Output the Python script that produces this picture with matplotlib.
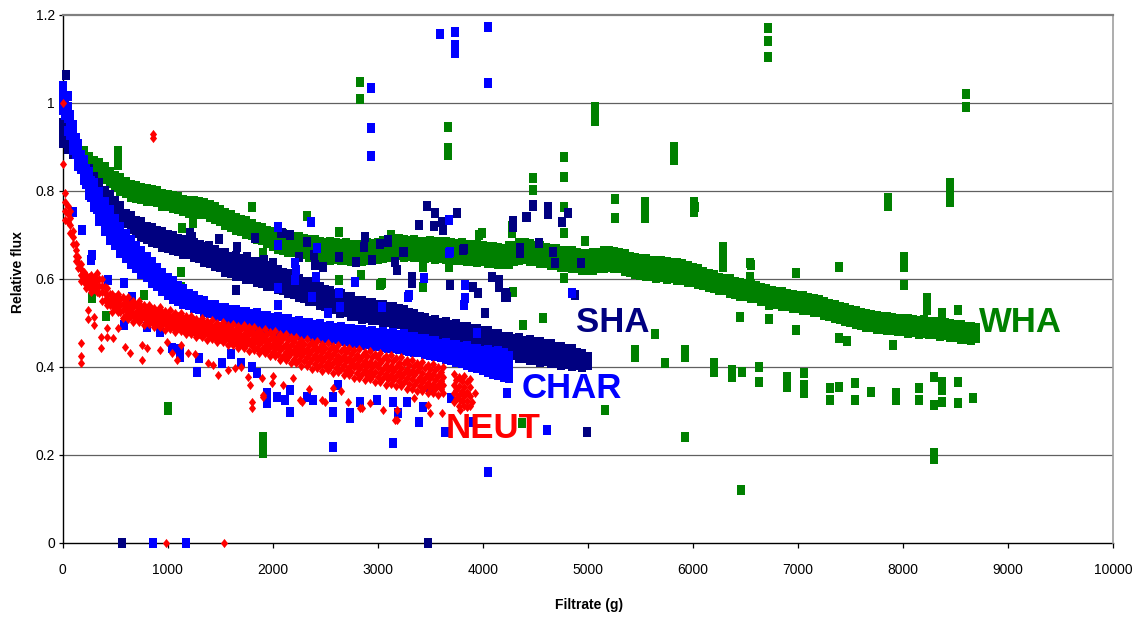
import numpy as np
import matplotlib
matplotlib.use("Agg")
import matplotlib.pyplot as plt
from matplotlib import font_manager as fm

# ---------------- data ----------------
# dense bands: marker rows (top / middle / bottom) read every 50 g of filtrate
WHA_x = np.arange(0, 8701, 50)
WHA_hi = [.946, .939, .926, .906, .890, .877, .869, .863, .855, .844,
          .834, .829, .821, .814, .812, .807, .805, .802, .801, .794,
          .791, .788, .786, .780, .778, .778, .774, .772, .768, .764,
          .756, .749, .745, .738, .733, .731, .725, .719, .715, .709,
          .706, .703, .703, .699, .696, .695, .691, .688, .688, .683,
          .681, .683, .681, .680, .682, .678, .677, .678, .681, .680,
          .681, .686, .686, .688, .691, .688, .687, .688, .685, .684,
          .686, .683, .683, .684, .681, .680, .681, .678, .677, .678,
          .675, .673, .673, .670, .669, .674, .676, .682, .681, .679,
          .676, .675, .671, .668, .668, .664, .663, .663, .659, .657,
          .656, .659, .659, .663, .663, .662, .659, .657, .651, .648,
          .645, .645, .641, .640, .641, .638, .637, .637, .633, .630,
          .626, .623, .616, .611, .608, .603, .601, .599, .594, .591,
          .589, .588, .583, .579, .578, .573, .571, .570, .566, .563,
          .561, .561, .557, .554, .553, .547, .544, .542, .537, .533,
          .529, .528, .523, .520, .519, .515, .514, .514, .511, .510,
          .509, .509, .506, .505, .506, .503, .502, .502, .499, .497,
          .496, .495, .491, .492, .489]
WHA_mid = [.936, .929, .916, .896, .878, .867, .856, .849, .842, .831,
           .822, .814, .808, .801, .797, .795, .792, .790, .786, .781,
           .778, .776, .771, .768, .765, .763, .762, .759, .755, .750,
           .743, .737, .730, .726, .720, .716, .712, .707, .700, .696,
           .690, .686, .684, .681, .679, .675, .673, .670, .668, .665,
           .663, .664, .663, .662, .662, .660, .659, .661, .661, .662,
           .664, .666, .668, .670, .671, .671, .669, .668, .668, .666,
           .666, .666, .665, .664, .664, .662, .661, .661, .659, .658,
           .658, .655, .654, .652, .651, .654, .658, .662, .664, .661,
           .659, .655, .653, .651, .648, .647, .645, .643, .642, .640,
           .638, .639, .641, .644, .645, .644, .641, .637, .634, .630,
           .627, .626, .623, .622, .621, .620, .619, .617, .615, .612,
           .610, .606, .602, .597, .593, .589, .587, .584, .580, .577,
           .575, .572, .570, .565, .562, .560, .557, .554, .552, .549,
           .547, .545, .543, .540, .537, .534, .530, .527, .523, .519,
           .516, .512, .510, .506, .503, .501, .500, .498, .497, .496,
           .495, .494, .492, .491, .490, .489, .488, .487, .485, .483,
           .482, .480, .477, .477, .477]
WHA_lo = [.926, .919, .906, .886, .868, .857, .844, .836, .828, .819,
          .809, .800, .796, .787, .785, .782, .778, .777, .774, .767,
          .766, .761, .759, .755, .751, .751, .747, .747, .741, .737,
          .731, .722, .718, .711, .708, .702, .700, .692, .688, .682,
          .676, .669, .667, .662, .661, .656, .656, .651, .651, .646,
          .646, .644, .646, .643, .644, .641, .642, .641, .644, .643,
          .646, .647, .651, .651, .654, .651, .652, .649, .650, .647,
          .649, .646, .648, .645, .646, .643, .644, .641, .642, .639,
          .640, .636, .636, .633, .634, .635, .641, .643, .646, .642,
          .641, .636, .636, .631, .631, .627, .628, .624, .624, .620,
          .621, .620, .624, .624, .628, .625, .624, .618, .616, .611,
          .610, .606, .606, .603, .604, .601, .602, .598, .598, .593,
          .594, .589, .587, .581, .579, .574, .574, .568, .567, .562,
          .562, .557, .556, .550, .549, .544, .544, .539, .539, .534,
          .534, .530, .530, .525, .524, .518, .517, .511, .510, .504,
          .502, .497, .496, .491, .490, .486, .487, .483, .484, .481,
          .482, .478, .479, .476, .477, .474, .475, .471, .472, .468,
          .469, .464, .464, .462, .466]

SHA_x = np.arange(0, 5001, 50)
SHA_hi = [.955, .921, .901, .881, .861, .849, .831, .819, .801, .791,
          .777, .766, .748, .743, .732, .729, .719, .717, .709, .707,
          .699, .698, .691, .689, .681, .681, .674, .673, .666, .666,
          .659, .658, .651, .652, .646, .645, .639, .638, .631, .630,
          .623, .621, .614, .611, .603, .601, .594, .593, .583, .582,
          .574, .573, .566, .566, .559, .558, .551, .551, .546, .546,
          .541, .542, .537, .537, .531, .530, .523, .521, .513, .512,
          .505, .506, .501, .502, .496, .497, .491, .491, .486, .486,
          .481, .481, .475, .475, .469, .469, .464, .465, .460, .461,
          .456, .457, .452, .452, .446, .446, .441, .440, .431, .430,
          .423]
SHA_mid = [.932, .910, .893, .872, .853, .838, .820, .805, .787, .775,
           .763, .751, .738, .728, .718, .712, .706, .700, .695, .690,
           .685, .681, .678, .673, .668, .665, .661, .656, .652, .647,
           .643, .637, .633, .630, .626, .622, .619, .615, .611, .607,
           .603, .599, .595, .590, .585, .580, .576, .571, .567, .562,
           .557, .553, .549, .546, .542, .538, .534, .531, .529, .526,
           .524, .522, .520, .517, .514, .511, .507, .503, .498, .494,
           .490, .487, .485, .482, .479, .476, .473, .470, .468, .465,
           .463, .461, .458, .455, .452, .449, .446, .443, .441, .439,
           .437, .435, .433, .431, .428, .426, .424, .422, .418, .416,
           .414]
SHA_lo = [.909, .896, .884, .861, .844, .826, .809, .791, .774, .758,
          .750, .736, .727, .713, .704, .695, .692, .684, .682, .673,
          .671, .665, .664, .657, .656, .649, .647, .639, .637, .629,
          .627, .617, .614, .607, .606, .600, .599, .593, .592, .585,
          .584, .577, .576, .568, .566, .558, .557, .550, .549, .542,
          .539, .532, .531, .525, .524, .517, .516, .510, .511, .506,
          .507, .502, .503, .497, .497, .491, .491, .484, .483, .476,
          .475, .469, .469, .462, .461, .455, .454, .448, .449, .444,
          .445, .440, .441, .435, .434, .428, .427, .421, .421, .416,
          .417, .412, .414, .409, .409, .405, .407, .403, .404, .401,
          .404]

CHAR_x = np.arange(0, 4251, 50)
CHAR_y1 = [1.039, 1.016, .951, .906, .871, .843, .819, .797, .776, .756,
           .736, .719, .703, .689, .676, .663, .651, .638, .626, .614,
           .603, .596, .583, .577, .566, .562, .553, .550, .541, .540,
           .534, .534, .529, .530, .525, .526, .521, .522, .517, .517,
           .512, .513, .508, .508, .503, .504, .500, .501, .496, .497,
           .492, .494, .489, .490, .486, .487, .483, .485, .480, .482,
           .478, .480, .476, .478, .473, .474, .468, .469, .463, .464,
           .458, .459, .453, .454, .449, .451, .446, .447, .441, .442,
           .436, .438, .434, .436, .431, .426]
CHAR_y2 = [1.021, .990, .932, .890, .855, .827, .801, .776, .754, .735,
           .716, .700, .684, .671, .659, .647, .635, .623, .612, .601,
           .592, .583, .574, .567, .560, .553, .548, .542, .537, .533,
           .530, .527, .525, .522, .520, .518, .516, .513, .511, .508,
           .506, .504, .502, .499, .497, .495, .493, .492, .490, .488,
           .486, .484, .482, .480, .479, .477, .476, .475, .473, .471,
           .470, .469, .467, .466, .464, .462, .460, .458, .455, .453,
           .450, .448, .445, .442, .440, .438, .435, .433, .430, .428,
           .424, .422, .420, .418, .415, .411]
CHAR_y3 = [1.002, .965, .913, .875, .840, .810, .782, .755, .731, .713,
           .697, .680, .666, .654, .641, .630, .620, .609, .598, .589,
           .577, .570, .563, .556, .550, .545, .539, .535, .530, .526,
           .523, .520, .517, .515, .513, .510, .508, .505, .502, .499,
           .496, .494, .492, .489, .487, .485, .484, .482, .480, .478,
           .476, .475, .473, .471, .469, .467, .465, .463, .462, .461,
           .459, .457, .456, .455, .453, .451, .448, .446, .444, .441,
           .439, .436, .434, .431, .427, .425, .422, .418, .415, .411,
           .408, .405, .402, .399, .397, .393]
CHAR_y4 = [.984, .936, .894, .856, .824, .791, .764, .731, .709, .689,
           .677, .658, .647, .633, .624, .611, .604, .591, .584, .573,
           .563, .554, .551, .543, .541, .533, .531, .524, .523, .516,
           .516, .510, .510, .504, .505, .499, .500, .493, .493, .487,
           .487, .482, .483, .477, .478, .473, .474, .470, .471, .466,
           .467, .462, .463, .458, .459, .454, .455, .450, .452, .447,
           .448, .446, .444, .443, .441, .439, .437, .435, .433, .430,
           .428, .425, .423, .419, .415, .412, .408, .404, .401, .397,
           .393, .389, .385, .381, .378, .375]
# extra readings in the thick early part of the CHAR band (25 g offsets)
CHAR_xs = np.arange(25, 1000, 50)
CHAR_s1 = [1.017, .972, .920, .881, .849, .823, .798, .776, .755, .736,
           .718, .702, .687, .674, .661, .649, .637, .625, .613, .603]
CHAR_s2 = [.995, .950, .903, .865, .833, .805, .779, .754, .733, .715,
           .698, .683, .669, .656, .644, .633, .622, .611, .600, .590]
CHAR_s3 = [.972, .927, .885, .849, .816, .787, .758, .732, .711, .694,
           .678, .663, .650, .638, .627, .616, .606, .596, .586, .576]

NEUT_x = np.arange(25, 3876, 50)
NEUT_r1 = [.795, .755, .680, .635, .610, .609, .614, .600, .579, .565,
           .566, .558, .559, .550, .549, .542, .542, .535, .536, .528,
           .529, .522, .522, .515, .516, .510, .511, .504, .506, .500,
           .502, .496, .498, .493, .496, .490, .492, .485, .486, .480,
           .481, .474, .475, .468, .469, .462, .464, .457, .459, .452,
           .454, .448, .449, .443, .444, .438, .440, .434, .436, .430,
           .432, .425, .427, .420, .422, .415, .417, .410, .412, .405,
           .407, .400, .399, np.nan, .384, .378, .380, .373]
NEUT_r2 = [.775, .738, .667, .622, .600, .595, .597, .585, .563, .553,
           .550, .544, .540, .536, .531, .528, .524, .521, .519, .515,
           .512, .509, .506, .503, .500, .497, .494, .491, .489, .487,
           .484, .482, .479, .478, .476, .474, .471, .468, .465, .463,
           .459, .456, .453, .449, .446, .443, .441, .438, .436, .433,
           .431, .429, .426, .424, .421, .418, .416, .414, .412, .410,
           .408, .405, .403, .400, .398, .395, .392, .390, .387, .385,
           .383, .380, .377, np.nan, .360, .357, .355, .354]
NEUT_r3 = [.755, .722, .653, .608, .590, .585, .583, .570, .552, .542,
           .537, .529, .525, .521, .517, .514, .511, .508, .505, .502,
           .499, .497, .493, .490, .487, .485, .482, .479, .476, .473,
           .470, .467, .465, .462, .460, .457, .455, .452, .448, .445,
           .442, .438, .434, .431, .428, .425, .422, .419, .416, .414,
           .412, .410, .407, .404, .401, .399, .396, .394, .392, .389,
           .387, .384, .382, .380, .377, .374, .372, .369, .367, .364,
           .362, .360, .358, np.nan, .340, .336, .333, .334]
NEUT_r4 = [.735, .705, .640, .595, .580, .571, .570, .551, .540, .526,
           .525, .511, .510, .503, .503, .496, .497, .490, .492, .485,
           .486, .480, .481, .474, .475, .468, .469, .462, .463, .456,
           .456, .449, .450, .443, .444, .437, .438, .431, .431, .424,
           .424, .416, .416, .408, .409, .402, .403, .396, .397, .391,
           .393, .387, .388, .381, .382, .375, .376, .370, .372, .365,
           .367, .360, .362, .356, .357, .350, .351, .345, .346, .340,
           .342, .336, .340, np.nan, .320, .311, .312, .311]
# readings in between the NEUT rows (25 g offsets)
NEUT_xs = np.arange(50, 3851, 50)
NEUT_s1 = [.766, .710, .651, .617, .604, .604, .599, .582, .565, .559,
           .555, .550, .546, .542, .538, .534, .531, .528, .525, .521,
           .518, .515, .512, .509, .506, .503, .500, .498, .496, .493,
           .491, .489, .487, .486, .484, .482, .479, .476, .474, .471,
           .468, .465, .461, .458, .455, .453, .450, .448, .445, .443,
           .441, .438, .436, .433, .430, .428, .426, .424, .422, .420,
           .418, .415, .413, .410, .408, .405, .402, .400, .397, .395,
           .393, .389, np.nan, np.nan, .370, .368, .366]
NEUT_s2 = [.748, .695, .638, .605, .593, .590, .584, .568, .553, .546,
           .540, .535, .531, .526, .523, .519, .516, .513, .510, .507,
           .504, .501, .498, .495, .492, .490, .487, .484, .481, .479,
           .476, .473, .471, .469, .467, .464, .462, .458, .455, .452,
           .449, .445, .442, .439, .436, .433, .430, .427, .425, .423,
           .421, .418, .415, .413, .410, .407, .405, .403, .401, .399,
           .396, .394, .391, .389, .386, .383, .381, .378, .376, .374,
           .371, .369, np.nan, np.nan, .348, .345, .344]
NEUT_s3 = [.729, .680, .624, .593, .582, .577, .569, .553, .540, .533,
           .526, .519, .515, .511, .508, .505, .502, .499, .496, .493,
           .491, .488, .485, .482, .479, .476, .473, .470, .467, .464,
           .461, .458, .455, .452, .450, .447, .444, .441, .437, .434,
           .430, .426, .422, .419, .416, .413, .410, .407, .405, .403,
           .401, .398, .395, .392, .389, .387, .384, .382, .380, .377,
           .375, .372, .370, .368, .365, .362, .359, .357, .354, .352,
           .350, .349, np.nan, np.nan, .327, .323, .323]

# scattered single readings (outliers) per series
WHA_out_x = [530, 530, 530, 1135, 1240, 1805, 2330, 2635, 2840, 3030, 2635, 1128, 1128, 780, 290,
             285, 410, 1005, 1005, 1910, 1910, 1910, 1910, 1815, 3670, 3670, 3670, 4475, 4475, 4775,
             4775, 5070, 5070, 5070, 5260, 5260, 4775, 4775, 4975, 3965, 4280, 3125, 2830, 2830,
             5825, 5825, 5825, 6715, 6715, 6715, 5545, 5545, 5545, 6010, 6010, 6285, 6285, 6285,
             6545, 6545, 3430, 3430, 3430, 3680, 3990, 4280, 4775, 4290, 3040, 3020, 8600, 8600,
             7855, 7855, 8445, 8445, 8445, 8010, 8010, 8010, 6985, 7390, 8230, 6550, 6450, 6725,
             6725, 6985, 7390, 7465, 7910, 8230, 8230, 8520, 8375, 6465, 6630, 6630, 6895, 6895,
             7060, 7060, 7060, 7305, 7305, 7390, 7540, 7540, 7700, 7930, 7930, 8150, 8150, 8300,
             8300, 8375, 8375, 8375, 8520, 8520, 8665, 8300, 8300, 6020, 4380, 4575, 5640, 5450,
             5450, 5735, 5925, 5925, 6200, 6200, 6370, 6370, 5160, 5925, 6460, 4370]
WHA_out_y = [.890, .875, .860, .716, .727, .764, .743, .707, .609, .589, .598, .616, .582, .564, .593,
             .557, .516, .310, .303, .241, .225, .205, .659, .632, .945, .897, .882, .830, .802, .877,
             .832, .990, .975, .960, .782, .739, .764, .705, .686, .700, .705, .700, 1.048, 1.010,
             .900, .885, .870, 1.170, 1.140, 1.105, .775, .757, .739, .775, .752, .673, .650, .627,
             .636, .605, .632, .627, .582, .627, .705, .720, .602, .570, .590, .586, 1.020, .990,
             .784, .765, .818, .795, .775, .650, .627, .586, .614, .627, .557, .632, .514, .541,
             .509, .484, .465, .459, .450, .552, .530, .530, .523, .389, .400, .366, .377, .355,
             .386, .360, .340, .352, .325, .355, .364, .325, .343, .341, .325, .352, .325, .377,
             .314, .366, .348, .320, .366, .318, .330, .205, .190, .764, .495, .511, .475, .439,
             .423, .409, .439, .423, .409, .389, .393, .377, .302, .241, .120, .273]

SHA_out_x = [30, 1215, 1230, 1310, 1395, 1490, 1580, 1660, 1755, 1835, 1920, 2005, 2080, 2165, 2250,
             2395, 2480, 2635, 2790, 2875, 3020, 3095, 1650, 3470, 3545, 3395, 3610, 3535, 3620,
             3755, 3820, 3250, 3165, 4285, 4285, 4420, 4475, 4620, 4620, 4755, 4810, 4355, 4540,
             4670, 4685, 4940, 4480, 4410, 4875, 4210, 4990, 3240, 3095, 2870, 2945, 2325, 2400,
             2090, 3330, 3185, 3810, 3910, 3955, 4085, 4155, 4020, 4230, 3325, 3690, 4155, 4220,
             4355, 2640, 2640, 565, 3475]
SHA_out_y = [1.064, .705, .695, .677, .675, .691, .650, .673, .650, .693, .643, .636, .705, .700, .650,
             .655, .627, .650, .639, .695, .680, .689, .575, .766, .750, .723, .730, .720, .711,
             .750, .668, .661, .639, .732, .718, .741, .766, .764, .748, .730, .750, .659, .682,
             .661, .636, .636, .768, .741, .564, .559, .252, .661, .684, .673, .643, .684, .632,
             .705, .605, .620, .666, .582, .568, .605, .598, .523, .559, .590, .586, .582, .568,
             .670, .545, .523, 0.0, 0.0]

CHAR_out_x = [3595, 3735, 3735, 3735, 4050, 4050, 3680, 3680, 3440, 3295, 2935, 2935, 2935, 100, 185,
              270, 280, 435, 585, 2050, 2050, 2370, 2420, 2210, 2210, 2410, 2780, 2375, 2635, 2050,
              660, 585, 800, 930, 1040, 1120, 1285, 1515, 1850, 1945, 1945, 2040, 2120, 2165, 2165,
              2325, 2385, 2575, 2575, 2735, 2735, 2830, 2990, 3145, 2575, 3145, 860, 1175, 2625,
              3195, 3280, 3430, 3640, 3905, 4230, 2640, 3040, 3290, 3820, 3950, 3690, 2050, 2525,
              3395, 4050, 4610, 3830, 3830, 4850, 2225, 1120, 1300, 1600, 1700, 1800, 3500, 3700]
CHAR_out_y = [1.157, 1.161, 1.132, 1.113, 1.172, 1.045, .734, .659, .602, .564, 1.034, .943, .880, .752, .711,
              .643, .655, .598, .591, .718, .677, .730, .670, .636, .598, .605, .593, .559, .568, .580,
              .559, .495, .491, .480, .443, .423, .389, .409, .386, .318, .341, .332, .325, .298, .348,
              .332, .325, .332, .298, .295, .284, .320, .325, .320, .218, .227, 0.0, 0.0, .359,
              .295, .320, .309, .252, .275, .341, .536, .536, .559, .541, .477, .661, .541, .523,
              .275, .161, .257, .586, .556, .568, .620, .440, .420, .430, .410, .400, .350, .330]

NEUT_out_x = [5, 5, 860, 860, 985, 1540, 175, 175, 175, 245, 245, 300, 300, 365, 365, 425, 425, 480, 530,
              595, 645, 755, 755, 805, 930, 995, 1040, 1090, 1130, 1195, 1260, 1385, 1435, 1480, 1575,
              1640, 1700, 1765, 1785, 1805, 1805, 1900, 1910, 1995, 2005, 2280, 2500, 2850, 2925,
              3050, 3180, 2720, 2575, 2195, 1910, 2260, 2470, 2830, 3180, 3480, 3500, 3610, 3785,
              3785, 3850, 3165, 2100, 2350, 2650, 3350, 3900, 3930]
NEUT_out_y = [1.000, .861, .930, .920, 0.0, 0.0, .455, .425, .409, .530, .509, .514, .495, .468, .443, .489,
              .468, .466, .489, .445, .432, .450, .416, .443, .439, .457, .432, .416, .450, .432, .430,
              .409, .405, .382, .393, .398, .400, .377, .359, .320, .307, .375, .336, .364, .380, .320,
              .320, .307, .318, .302, .279, .320, .352, .375, .332, .325, .325, .307, .302, .314, .295,
              .295, .325, .302, .310, .280, .360, .350, .345, .330, .320, .340]

SERIES_NAMES = ["WHA", "SHA", "CHAR", "NEUT"]
SERIES_COLORS = ["#008000", "#000080", "#0000FF", "#FF0000"]
LABEL_POS = {"WHA": (9120, 0.500), "SHA": (5240, 0.502), "CHAR": (4845, 0.352), "NEUT": (4095, 0.261)}

X_TICKS = list(range(0, 10001, 1000))
Y_TICKS = [0, 0.2, 0.4, 0.6, 0.8, 1.0, 1.2]
Y_TICK_LABELS = ["0", "0.2", "0.4", "0.6", "0.8", "1", "1.2"]


# ---------------- drawing ----------------
def has_font(name):
    try:
        fm.findfont(fm.FontProperties(family=name), fallback_to_default=False)
        return True
    except Exception:
        return False


BASE = "Liberation Sans" if has_font("Liberation Sans") else "DejaVu Sans"
NARROW = "Liberation Sans Narrow" if has_font("Liberation Sans Narrow") else None
plt.rcParams["font.family"] = [BASE, "DejaVu Sans"]

W, H = 1142, 619
fig = plt.figure(figsize=(W / 100, H / 100), dpi=100)
ax = fig.add_axes([62.5 / W, 1 - 543 / H, (1113 - 62.5) / W, (543 - 15) / H])

SQUARE = [(-0.4, -0.5), (0.4, -0.5), (0.4, 0.5), (-0.4, 0.5), (-0.4, -0.5)]
DIAMOND = [(0, -0.5), (0.39, 0), (0, 0.5), (-0.39, 0), (0, -0.5)]


def draw(xs, ys, color, marker, size, z):
    ax.scatter(xs, ys, s=size, marker=marker, c=color, linewidths=0,
               zorder=z, clip_on=False)


band = {
    "WHA": [(WHA_x, [WHA_hi, WHA_mid, WHA_lo])],
    "SHA": [(SHA_x, [SHA_hi, SHA_mid, SHA_lo])],
    "CHAR": [(CHAR_x, [CHAR_y1, CHAR_y2, CHAR_y3, CHAR_y4]),
             (CHAR_xs, [CHAR_s1, CHAR_s2, CHAR_s3])],
    "NEUT": [(NEUT_x, [NEUT_r1, NEUT_r2, NEUT_r3, NEUT_r4]),
             (NEUT_xs, [NEUT_s1, NEUT_s2, NEUT_s3])],
}
outliers = {
    "WHA": (WHA_out_x, WHA_out_y),
    "SHA": (SHA_out_x, SHA_out_y),
    "CHAR": (CHAR_out_x, CHAR_out_y),
    "NEUT": (NEUT_out_x, NEUT_out_y),
}

for i, (name, color) in enumerate(zip(SERIES_NAMES, SERIES_COLORS)):
    marker, size = (DIAMOND, 44) if name == "NEUT" else (SQUARE, 42)
    z = 3 + i
    for xs, rows in band[name]:
        for r in rows:
            draw(xs, np.asarray(r, dtype=float), color, marker, size, z)
    ox, oy = outliers[name]
    draw(ox, oy, color, marker, size, z)
    tx, ty = LABEL_POS[name]
    if NARROW:
        ax.text(tx, ty, name, color=color, fontsize=30, fontweight="bold",
                family=NARROW, ha="center", va="center", zorder=10)
    else:
        ax.text(tx, ty, name, color=color, fontsize=25, fontweight="bold",
                ha="center", va="center", zorder=10)

ax.set_xlim(0, 10000)
ax.set_ylim(0, 1.2)
ax.set_xticks(X_TICKS)
ax.set_xticklabels([str(t) for t in X_TICKS])
ax.set_yticks(Y_TICKS)
ax.set_yticklabels(Y_TICK_LABELS)
for y in Y_TICKS[1:-1]:
    ax.axhline(y, color="#606060", lw=0.9, zorder=1)

ax.tick_params(axis="x", direction="out", length=3.6, width=0.9, pad=10.5,
               labelsize=10, colors="black")
ax.tick_params(axis="y", direction="out", length=3.0, width=0.9, pad=2.5,
               labelsize=10, colors="black")

for side in ("left", "bottom"):
    ax.spines[side].set_color("black")
    ax.spines[side].set_linewidth(1.0)
    ax.spines[side].set_zorder(2)
ax.spines["top"].set_color("#808080")
ax.spines["top"].set_linewidth(1.6)
ax.spines["right"].set_color("#a0a0a0")
ax.spines["right"].set_linewidth(1.2)

fig.text(589 / W, 1 - 605 / H, "Filtrate (g)", ha="center", va="center",
         fontsize=10, fontweight="bold")
fig.text(18 / W, 1 - 272 / H, "Relative flux", ha="center", va="center",
         fontsize=10, fontweight="bold", rotation=90)

fig.savefig("out.png", dpi=100)
